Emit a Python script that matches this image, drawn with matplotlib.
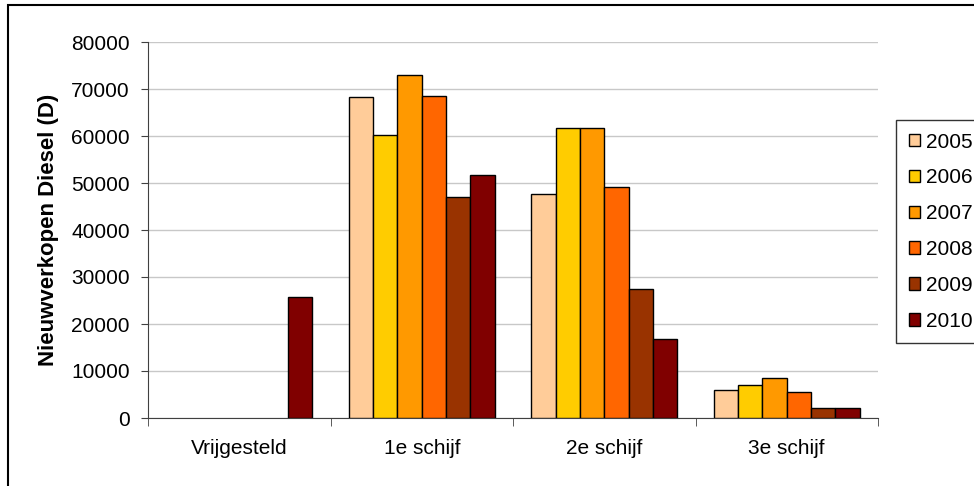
import matplotlib.pyplot as plt
import numpy as np
from matplotlib.patches import Rectangle

plt.rcParams['font.family'] = ['Liberation Sans', 'DejaVu Sans']

categories = ['Vrijgesteld', '1e schijf', '2e schijf', '3e schijf']
years = ['2005', '2006', '2007', '2008', '2009', '2010']
colors = ['#FFCC99', '#FFCC00', '#FF9900', '#FF6600', '#993300', '#800000']

# verkopen per jaar, per schijf
v2005 = [0, 68200, 47700, 5900]
v2006 = [0, 60200, 61700, 7000]
v2007 = [0, 73000, 61700, 8500]
v2008 = [0, 68600, 49200, 5500]
v2009 = [0, 47000, 27500, 2200]
v2010 = [25700, 51800, 16900, 2200]
series = [v2005, v2006, v2007, v2008, v2009, v2010]

fig = plt.figure(figsize=(9.74, 4.86), dpi=100)
ax = fig.add_axes([148 / 974, 1 - 418 / 486, 730 / 974, 376 / 486])

ind = np.arange(len(categories))
width = 0.8 / len(series)
bars = []
for i, (vals, col) in enumerate(zip(series, colors)):
    vals = np.array(vals)
    x = ind - 0.4 + width * (i + 0.5)
    m = vals > 0  # excel tekent geen staaf bij 0
    b = ax.bar(x[m], vals[m], width, color=col, edgecolor='black', linewidth=1, zorder=3)
    bars.append(b)

ax.set_xlim(-0.5, len(categories) - 0.5)
ax.set_ylim(0, 80000)
ax.set_yticks(np.arange(0, 80001, 10000))
ax.set_yticklabels([str(v) for v in range(0, 80001, 10000)], fontsize=15)
ax.set_xticks(ind)
ax.set_xticklabels(categories, fontsize=15)
ax.set_xticks(np.arange(-0.5, len(categories)), minor=True)
ax.tick_params(axis='x', which='major', length=0, pad=15)
ax.tick_params(axis='x', which='minor', length=6, color='#404040')
ax.tick_params(axis='y', length=5, color='#404040', pad=8)
ax.yaxis.grid(True, color='#C8C8C8', linewidth=1, zorder=0)
ax.set_axisbelow(True)
for s in ['top', 'right']:
    ax.spines[s].set_visible(False)
for s in ['left', 'bottom']:
    ax.spines[s].set_color('#404040')
ax.set_ylabel('Nieuwverkopen Diesel (D)', fontsize=16, fontweight='bold', labelpad=9)

leg = ax.legend([b[0] for b in bars], years, loc='upper left',
                bbox_to_anchor=(896 / 974, 1 - 120 / 486), bbox_transform=fig.transFigure,
                fontsize=15, frameon=True, fancybox=False, edgecolor='black',
                handlelength=0.55, handleheight=0.55, handletextpad=0.3,
                labelspacing=0.81, borderpad=0.6, borderaxespad=0)
leg.get_frame().set_linewidth(1)

# rand om de grafiek
fig.patches.append(Rectangle((8 / 974, -0.1), 1.2, 1 - 5 / 486 + 0.1, transform=fig.transFigure,
                             fill=False, edgecolor='black', linewidth=1.5))

fig.savefig('out.png', dpi=100)
